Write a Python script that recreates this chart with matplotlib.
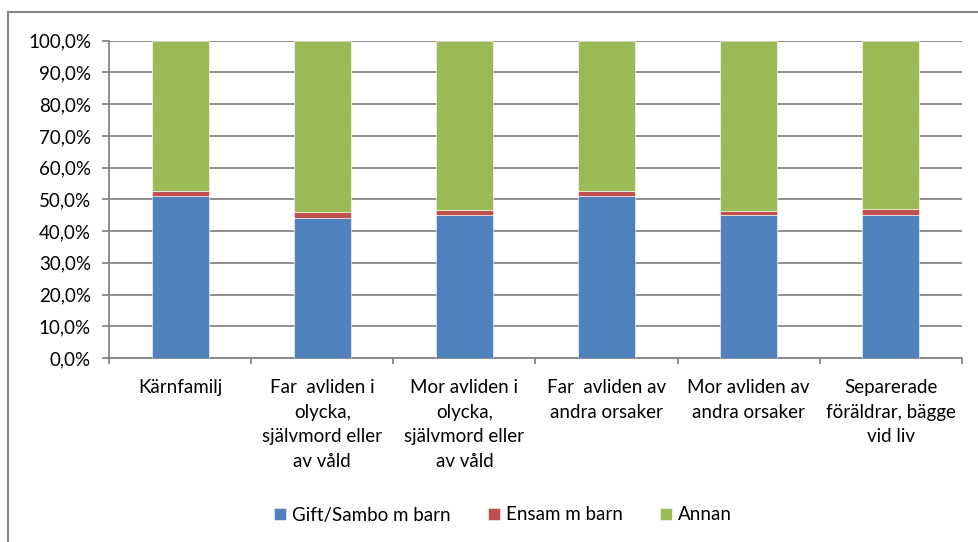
import matplotlib.pyplot as plt
import numpy as np
from matplotlib.ticker import FuncFormatter

categories = [
    "Kärnfamilj",
    "Far  avliden i\nolycka,\nsjälvmord eller\nav våld",
    "Mor avliden i\nolycka,\nsjälvmord eller\nav våld",
    "Far  avliden av\nandra orsaker",
    "Mor avliden av\nandra orsaker",
    "Separerade\nföräldrar, bägge\nvid liv",
]
gift_sambo = [51.2, 44.1, 45.0, 51.2, 45.0, 45.2]
ensam = [1.3, 1.8, 1.6, 1.3, 1.2, 1.8]
annan = [100 - g - e for g, e in zip(gift_sambo, ensam)]
series_names = ["Gift/Sambo m barn", "Ensam m barn", "Annan"]

plt.rcParams['font.family'] = ['Lato', 'DejaVu Sans']
plt.rcParams['font.size'] = 13.5

fig = plt.figure(figsize=(9.79, 5.42), dpi=100)
ax = fig.add_axes([109 / 979, 1 - 358 / 542, 853 / 979, 317.3 / 542])

grid_col = '#868686'
x = np.arange(len(categories))
width = 0.4
colors = ['#4F81BD', '#C0504D', '#9BBB59']
bottom = np.zeros(len(categories))
bars = []
for vals, col in zip([gift_sambo, ensam, annan], colors):
    b = ax.bar(x, vals, width, bottom=bottom, color=col, edgecolor='white',
               linewidth=0.4, zorder=3)
    bars.append(b)
    bottom += np.array(vals)

ax.set_xlim(-0.5, len(categories) - 0.5)
ax.set_ylim(0, 100)
ax.set_yticks(np.arange(0, 101, 10))
ax.yaxis.set_major_formatter(FuncFormatter(lambda v, p: f"{v:.1f}%".replace('.', ',')))
ax.yaxis.grid(True, color=grid_col, linewidth=1.3, zorder=0)
ax.set_axisbelow(True)

# category labels between tick marks at boundaries
ax.set_xticks(np.arange(-0.5, len(categories), 1))
ax.set_xticklabels([])
ax.set_xticks(x, minor=True)
ax.set_xticklabels(categories, minor=True, linespacing=1.55)
ax.tick_params(axis='x', which='minor', length=0, pad=15)
ax.tick_params(axis='x', which='major', length=4, color=grid_col, width=1.3)
ax.tick_params(axis='y', length=5, color=grid_col, width=1.3, pad=8)

for side in ['top', 'right']:
    ax.spines[side].set_visible(False)
for side in ['left', 'bottom']:
    ax.spines[side].set_color(grid_col)
    ax.spines[side].set_linewidth(1.3)

fig.legend(bars, series_names, loc='center', bbox_to_anchor=(503 / 979, 1 - 515 / 542),
           ncol=3, frameon=False, handlelength=0.65, handleheight=0.65,
           handletextpad=0.3, columnspacing=2.0)

# outer chart frame
fig.add_artist(plt.Line2D([8 / 979, 1], [1 - 12 / 542, 1 - 12 / 542],
                          transform=fig.transFigure, color=grid_col, linewidth=1.5))
fig.add_artist(plt.Line2D([8 / 979, 8 / 979], [0, 1 - 12 / 542],
                          transform=fig.transFigure, color=grid_col, linewidth=1.5))

fig.savefig('out.png', dpi=100)
